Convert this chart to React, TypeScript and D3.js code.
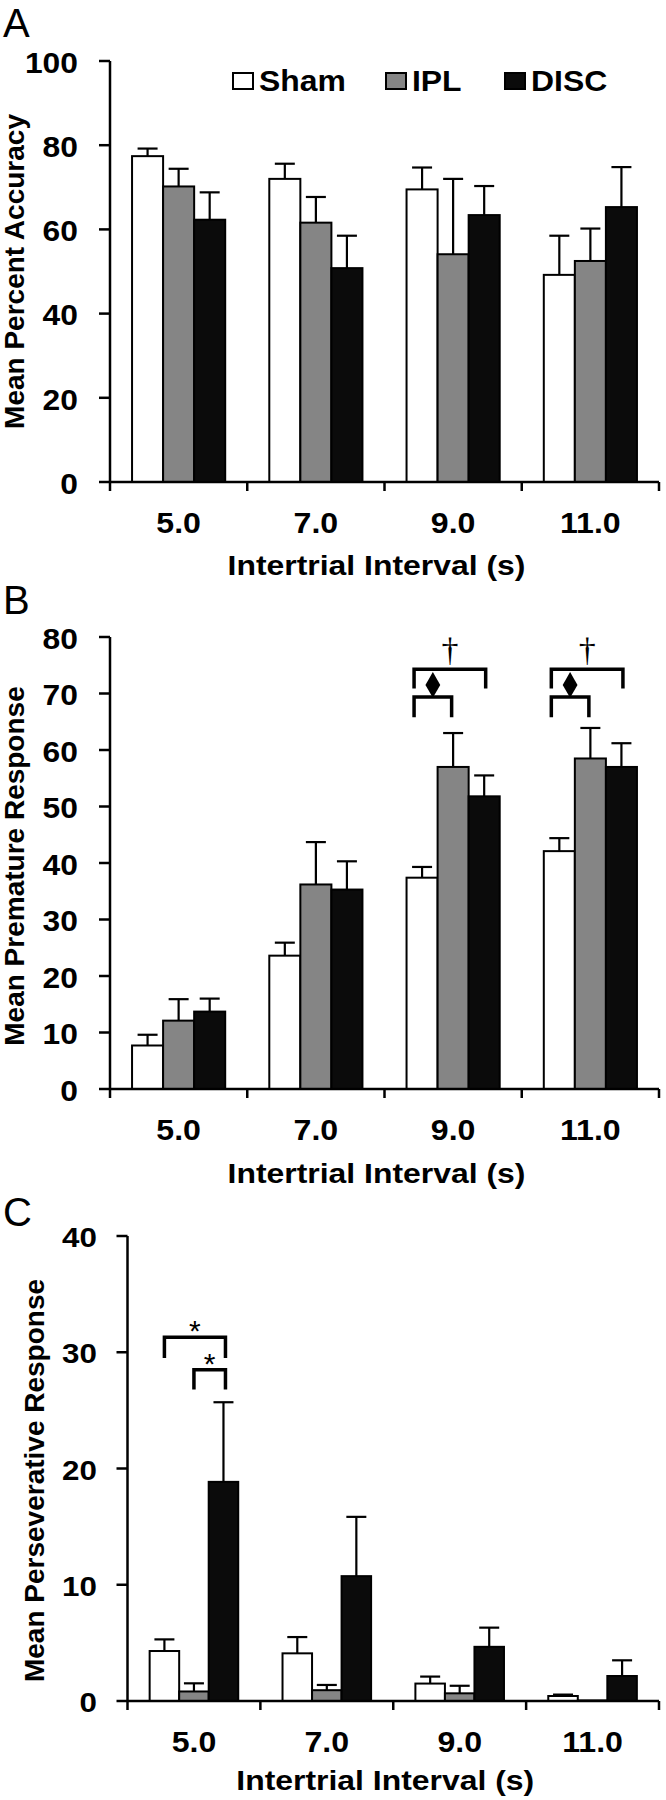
import React, { useEffect, useRef } from 'react';
import * as d3 from 'd3';

// categories
const intervals = ['5.0', '7.0', '9.0', '11.0'];
const groups = ['Sham', 'IPL', 'DISC'];
const groupFills = ['#ffffff', '#858585', '#0b0b0b'];

// Panel A: mean percent accuracy (mean, SEM)
const accuracySham = [77.4, 72.0, 69.5, 49.2];
const accuracyIpl = [70.2, 61.6, 54.1, 52.5];
const accuracyDisc = [62.3, 50.8, 63.4, 65.3];
const accuracyShamErr = [1.8, 3.6, 5.2, 9.3];
const accuracyIplErr = [4.2, 6.1, 17.9, 7.7];
const accuracyDiscErr = [6.5, 7.7, 6.9, 9.5];

// Panel B: mean premature response
const prematureSham = [7.7, 23.6, 37.4, 42.1];
const prematureIpl = [12.1, 36.2, 57.0, 58.5];
const prematureDisc = [13.7, 35.3, 51.8, 57.0];
const prematureShamErr = [1.9, 2.3, 1.9, 2.3];
const prematureIplErr = [3.8, 7.5, 6.0, 5.4];
const prematureDiscErr = [2.3, 5.0, 3.7, 4.2];

// Panel C: mean perseverative response
const persevSham = [4.3, 4.1, 1.5, 0.43];
const persevIpl = [0.82, 0.93, 0.66, 0.05];
const persevDisc = [18.85, 10.74, 4.66, 2.15];
const persevShamErr = [1.0, 1.4, 0.6, 0.12];
const persevIplErr = [0.7, 0.45, 0.65, 0];
const persevDiscErr = [6.85, 5.1, 1.65, 1.35];

// y ticks
const accuracyTicks = [0, 20, 40, 60, 80, 100];
const prematureTicks = [0, 10, 20, 30, 40, 50, 60, 70, 80];
const persevTicks = [0, 10, 20, 30, 40];

// significance brackets: [interval, from group, to group, top value, leg bottom, mark]
const prematureBrackets = [
  ['9.0', 0, 2, 74.3, 70.9, 'dagger'],
  ['9.0', 0, 1, 69.4, 65.8, 'diamond'],
  ['11.0', 0, 2, 74.3, 70.9, 'dagger'],
  ['11.0', 0, 1, 69.4, 65.8, 'diamond'],
];
const persevBrackets = [
  ['5.0', 0, 2, 31.3, 29.5, 'star'],
  ['5.0', 1, 2, 28.5, 26.8, 'star'],
];

const FONT = '"Liberation Sans", Arial, sans-serif';

const addText = (g, x, y, txt, o: any = {}) => {
  const t = g
    .append('text')
    .attr('transform', `translate(${x},${y}) scale(${o.sx || 1},1)${o.rotate ? ' rotate(-90)' : ''}`)
    .attr('text-anchor', o.anchor || 'middle')
    .style('font-family', o.family || FONT)
    .style('font-weight', o.weight || 'bold')
    .style('font-size', `${o.size || 30}px`)
    .attr('fill', '#000')
    .text(txt);
  return t;
};

const drawPanel = (svg, p) => {
  const g = svg.append('g');
  const x0 = d3.scaleBand().domain(intervals).range([p.left, p.right]).padding(0);
  const x1 = d3.scaleBand().domain(groups).range([0, x0.bandwidth()]).paddingInner(0).paddingOuter(p.outer);
  const y = d3.scaleLinear().domain([0, p.max]).range([p.bottom, p.top]);
  const series = [p.sham, p.ipl, p.disc];
  const errs = [p.shamErr, p.iplErr, p.discErr];
  const cx = (cat, gi) => x0(cat) + x1(groups[gi]) + x1.bandwidth() / 2;

  // panel letter
  addText(g, 3, p.letterY, p.letter, { size: 40, weight: 'normal', anchor: 'start' });

  // bars
  groups.forEach((grp, gi) => {
    g.append('g')
      .selectAll('rect')
      .data(intervals)
      .enter()
      .append('rect')
      .attr('x', d => x0(d) + x1(grp))
      .attr('y', (d, i) => y(series[gi][i]))
      .attr('width', x1.bandwidth())
      .attr('height', (d, i) => y(0) - y(series[gi][i]))
      .attr('fill', groupFills[gi])
      .attr('stroke', '#000')
      .attr('stroke-width', 2);
  });

  // error bars
  groups.forEach((grp, gi) => {
    intervals.forEach((cat, i) => {
      const e = errs[gi][i];
      if (!e) return;
      const c = cx(cat, gi);
      const v = series[gi][i];
      g.append('line')
        .attr('x1', c).attr('x2', c)
        .attr('y1', y(v)).attr('y2', y(v + e))
        .attr('stroke', '#000').attr('stroke-width', 2.2);
      g.append('line')
        .attr('x1', c - 10).attr('x2', c + 10)
        .attr('y1', y(v + e)).attr('y2', y(v + e))
        .attr('stroke', '#000').attr('stroke-width', 2.2);
    });
  });

  // y axis
  g.append('line')
    .attr('x1', p.left).attr('x2', p.left)
    .attr('y1', y(p.max)).attr('y2', y(0))
    .attr('stroke', '#000').attr('stroke-width', 2.5);
  g.selectAll('.ytick')
    .data(p.ticks)
    .enter()
    .append('line')
    .attr('x1', p.left - 11).attr('x2', p.left)
    .attr('y1', d => y(d)).attr('y2', d => y(d))
    .attr('stroke', '#000').attr('stroke-width', 2.5);
  p.ticks.forEach(t => {
    addText(g, p.tickLabelX, y(t) + p.tickSize * 0.36 + 1, String(t), {
      size: p.tickSize,
      sx: p.tickSx,
      anchor: 'end',
    });
  });

  // x axis
  g.append('line')
    .attr('x1', p.left).attr('x2', p.right)
    .attr('y1', y(0)).attr('y2', y(0))
    .attr('stroke', '#000').attr('stroke-width', 2.5);
  const bounds = [p.left, ...intervals.map(c => x0(c) + x0.bandwidth())];
  g.selectAll('.xtick')
    .data(bounds)
    .enter()
    .append('line')
    .attr('x1', d => d).attr('x2', d => d)
    .attr('y1', y(0)).attr('y2', y(0) + 9)
    .attr('stroke', '#000').attr('stroke-width', 2.5);
  intervals.forEach(c => {
    addText(g, x0(c) + x0.bandwidth() / 2, y(0) + 51, c, { size: 30, sx: 1.07 });
  });
  addText(g, (p.left + p.right) / 2 - 8, y(0) + p.titleGap, 'Intertrial Interval (s)', {
    size: 28,
    sx: 1.14,
  });

  // y title
  addText(g, p.yTitleX, (p.top + p.bottom) / 2 + p.yTitleShift, p.yTitle, {
    size: 28,
    rotate: true,
  });

  // brackets
  (p.brackets || []).forEach(([cat, a, b, top, leg, mark]) => {
    const xa = cx(cat, a) + (p.bracketLeftShift && a === 0 ? p.bracketLeftShift : 0);
    const xb = cx(cat, b) + (b === 2 ? p.bracketRightShift || 0 : -1.5);
    g.append('path')
      .attr('d', `M${xa},${y(leg)}V${y(top)}H${xb}V${y(leg)}`)
      .attr('fill', 'none')
      .attr('stroke', '#000')
      .attr('stroke-width', 3.5);
    const mx = (xa + xb) / 2;
    if (mark === 'dagger') {
      addText(g, mx, y(top) - 8, '\u2020', {
        size: 34,
        weight: 'normal',
        family: '"Liberation Serif", "Times New Roman", serif',
      });
    } else if (mark === 'diamond') {
      g.append('path')
        .attr('d', d3.symbol(d3.symbolDiamond).size(190)())
        .attr('transform', `translate(${mx},${y(top) - 12})`)
        .attr('fill', '#000');
    } else if (mark === 'star') {
      addText(g, mx, y(top) + 4, '*', { size: 30, weight: 'normal' });
    }
  });
};

const App = () => {
  const svgRef = useRef(null);

  useEffect(() => {
    const svg = d3.select(svgRef.current);
    svg.selectAll('*').remove();

    svg.append('rect').attr('width', 666).attr('height', 1800).attr('fill', '#fff');

    drawPanel(svg, {
      letter: 'A', letterY: 37,
      left: 110, right: 659, top: 61, bottom: 482, max: 100, outer: 0.71,
      ticks: accuracyTicks, tickLabelX: 78, tickSize: 30, tickSx: 1.06,
      sham: accuracySham, ipl: accuracyIpl, disc: accuracyDisc,
      shamErr: accuracyShamErr, iplErr: accuracyIplErr, discErr: accuracyDiscErr,
      titleGap: 93, yTitle: 'Mean Percent Accuracy', yTitleX: 24, yTitleShift: 0,
    });

    drawPanel(svg, {
      letter: 'B', letterY: 614,
      left: 110, right: 659, top: 637, bottom: 1089, max: 80, outer: 0.71,
      ticks: prematureTicks, tickLabelX: 78, tickSize: 30, tickSx: 1.06,
      sham: prematureSham, ipl: prematureIpl, disc: prematureDisc,
      shamErr: prematureShamErr, iplErr: prematureIplErr, discErr: prematureDiscErr,
      titleGap: 94, yTitle: 'Mean Premature Response', yTitleX: 24, yTitleShift: 3,
      brackets: prematureBrackets, bracketLeftShift: -8, bracketRightShift: 1.5,
    });

    drawPanel(svg, {
      letter: 'C', letterY: 1226,
      left: 127.5, right: 659, top: 1236, bottom: 1701, max: 40, outer: 0.75,
      ticks: persevTicks, tickLabelX: 97, tickSize: 28, tickSx: 1.12,
      sham: persevSham, ipl: persevIpl, disc: persevDisc,
      shamErr: persevShamErr, iplErr: persevIplErr, discErr: persevDiscErr,
      titleGap: 89, yTitle: 'Mean Perseverative Response', yTitleX: 44, yTitleShift: 12,
      brackets: persevBrackets, bracketRightShift: 2,
    });

    // legend (panel A)
    const legendX = [233, 386, 505];
    const lg = svg.append('g');
    groups.forEach((grp, i) => {
      lg.append('rect')
        .attr('x', legendX[i]).attr('y', 73)
        .attr('width', 20).attr('height', 16)
        .attr('fill', groupFills[i])
        .attr('stroke', '#000').attr('stroke-width', 2);
      addText(lg, legendX[i] + 26, 91, grp, { size: 29, sx: 1.1, anchor: 'start' });
    });
  }, []);

  return (
    <svg
      ref={svgRef}
      width={666}
      height={1800}
      style={{ position: 'absolute', left: 0, top: 0, display: 'block' }}
    />
  );
};

export default App;
